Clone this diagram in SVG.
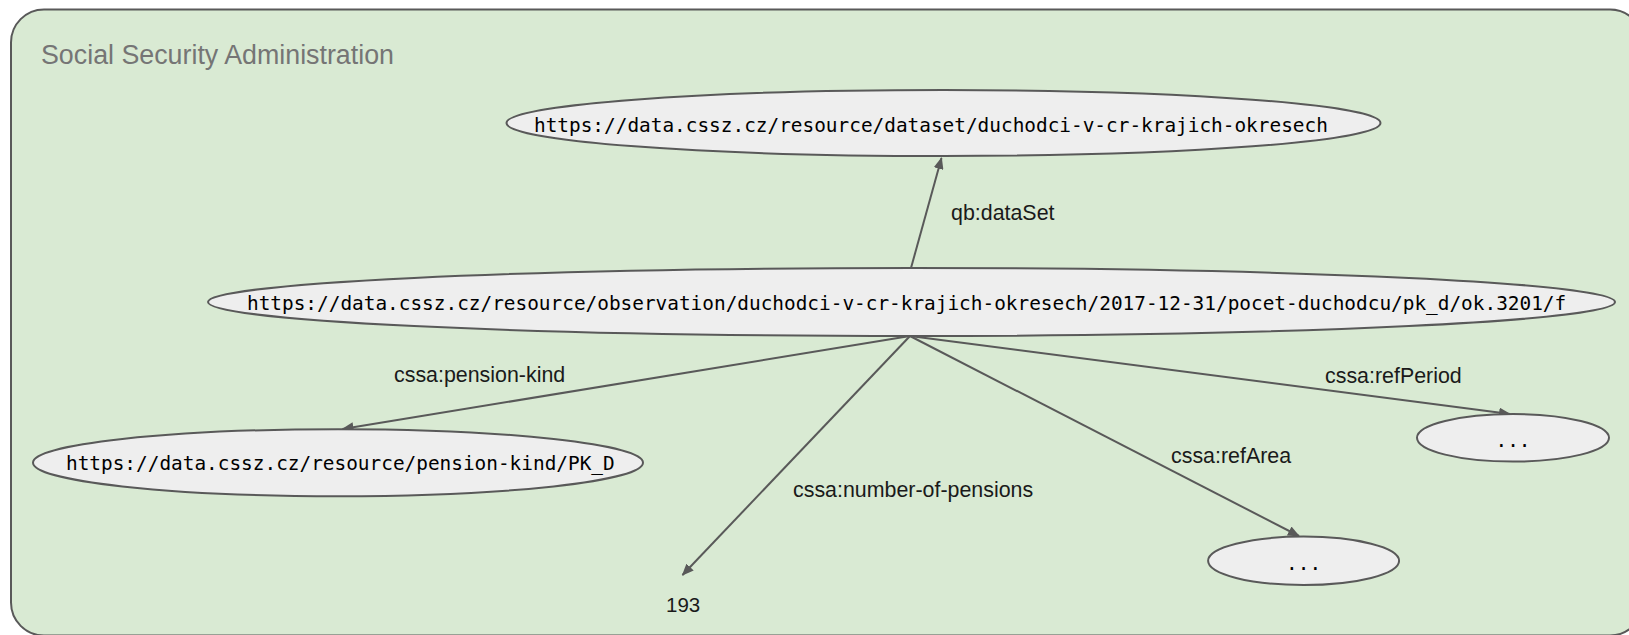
<svg xmlns="http://www.w3.org/2000/svg" width="1629" height="635" viewBox="0 0 1629 635">
  <style>
    .node ellipse { fill: #eeeeee; stroke: #595959; stroke-width: 2; }
    .mono { font-family: "DejaVu Sans Mono", "Liberation Mono", monospace; font-size: 19.4px; fill: #000000; }
    .lbl { font-family: "Liberation Sans", Arial, sans-serif; font-size: 21.4px; fill: #1a1a1a; }
    .edge { stroke: #595959; stroke-width: 2; fill: none; marker-end: url(#arrow); }
  </style>
  <defs>
    <marker id="arrow" viewBox="0 0 12 10" refX="11" refY="5" markerWidth="12" markerHeight="10" markerUnits="userSpaceOnUse" orient="auto">
      <path d="M0,0 L12,5 L0,10 z" fill="#595959"/>
    </marker>
  </defs>

  <g id="container">
    <rect x="11" y="9.5" width="1632" height="626" rx="33" ry="33" fill="#d9ead3" stroke="#595959" stroke-width="2"/>
    <text x="41" y="64" font-family="Liberation Sans, Arial, sans-serif" font-size="26.8" fill="#757575">Social Security Administration</text>
  </g>

  <g id="connectors">
    <line class="edge" x1="911" y1="268" x2="941.5" y2="158"/>
    <line class="edge" x1="910" y1="336" x2="342.5" y2="429"/>
    <line class="edge" x1="910" y1="336" x2="682.5" y2="575"/>
    <line class="edge" x1="910" y1="336" x2="1299" y2="536"/>
    <line class="edge" x1="910" y1="336" x2="1510" y2="414"/>
    <text class="lbl" x="951" y="220">qb:dataSet</text>
    <text class="lbl" x="394" y="382">cssa:pension-kind</text>
    <text class="lbl" x="793" y="497">cssa:number-of-pensions</text>
    <text class="lbl" x="1171" y="463">cssa:refArea</text>
    <text class="lbl" x="1325" y="383">cssa:refPeriod</text>
  </g>

  <g id="dataset" class="node">
    <ellipse cx="943.5" cy="123" rx="437" ry="33"/>
    <text class="mono" x="534" y="131.5">https://data.cssz.cz/resource/dataset/duchodci-v-cr-krajich-okresech</text>
  </g>

  <g id="observation" class="node">
    <ellipse cx="911.5" cy="302" rx="703.5" ry="34"/>
    <text class="mono" x="247" y="310">https://data.cssz.cz/resource/observation/duchodci-v-cr-krajich-okresech/2017-12-31/pocet-duchodcu/pk_d/ok.3201/f</text>
  </g>

  <g id="pension-kind" class="node">
    <ellipse cx="338" cy="462.7" rx="305" ry="33.5"/>
    <text class="mono" x="66" y="470">https://data.cssz.cz/resource/pension-kind/PK_D</text>
  </g>

  <g id="number-of-pensions">
    <text x="666" y="611.5" font-family="Liberation Sans, Arial, sans-serif" font-size="20.5" fill="#1a1a1a">193</text>
  </g>

  <g id="refArea" class="node">
    <ellipse cx="1303.6" cy="560.8" rx="95.5" ry="24.2"/>
    <text class="mono" x="1303.6" y="570" text-anchor="middle">...</text>
  </g>

  <g id="refPeriod" class="node">
    <ellipse cx="1513" cy="437.8" rx="96" ry="23.8"/>
    <text class="mono" x="1513" y="447" text-anchor="middle">...</text>
  </g>
</svg>
